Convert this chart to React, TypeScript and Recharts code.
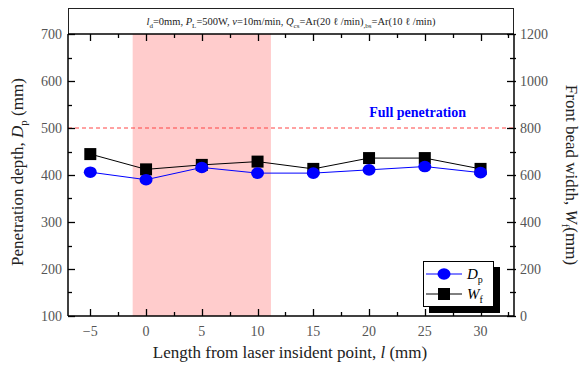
import { ComposedChart, Line, XAxis, YAxis, ReferenceArea, ReferenceLine } from 'recharts';

const lengths = [-5, 0, 5, 10, 15, 20, 25, 30];
const penetrationDepth = [406, 390, 416, 404, 404, 411, 418, 405];
const beadWidth = [689, 624, 643, 657, 626, 672, 672, 626];

const xTicks = [-5, -2.5, 0, 2.5, 5, 7.5, 10, 12.5, 15, 17.5, 20, 22.5, 25, 27.5, 30, 32.5];
const leftTicks = [100, 150, 200, 250, 300, 350, 400, 450, 500, 550, 600, 650, 700];
const rightTicks = [0, 100, 200, 300, 400, 500, 600, 700, 800, 900, 1000, 1100, 1200];

const FONT = 'Liberation Serif, DejaVu Serif, serif';
const AXIS = '#000';

const data = lengths.map((l, i) => ({ l, dp: penetrationDepth[i], wf: beadWidth[i] }));

const crisp = (v: number) => Math.round(v) + 0.5;

function BottomTick(props: any) {
  const { x, y, payload } = props;
  const major = payload.value % 5 === 0;
  const axisY = y - 8;
  const px = crisp(x);
  return (
    <g>
      <path d={`M${px},${axisY}V${axisY - (major ? 7 : 4)}`} stroke={AXIS} strokeWidth={1.3} fill="none" />
      {major && (
        <text x={x} y={axisY + 20} textAnchor="middle" fill="#555" fontSize={14} fontFamily={FONT}>
          {payload.value < 0 ? '\u2212' + Math.abs(payload.value) : payload.value}
        </text>
      )}
    </g>
  );
}

function TopTick(props: any) {
  const { x, y, payload } = props;
  const major = payload.value % 5 === 0;
  const px = crisp(x);
  return <path d={`M${px},${y}V${y + (major ? 7 : 4)}`} stroke={AXIS} strokeWidth={1.3} fill="none" />;
}

function LeftTick(props: any) {
  const { x, y, payload } = props;
  const major = payload.value % 100 === 0;
  const axisX = x + 6;
  const py = crisp(y);
  return (
    <g>
      <path d={`M${axisX},${py}H${axisX + (major ? 7 : 4)}`} stroke={AXIS} strokeWidth={1.3} fill="none" />
      {major && (
        <text x={axisX - 6} y={y + 5} textAnchor="end" fill="#555" fontSize={14} fontFamily={FONT}>
          {payload.value}
        </text>
      )}
    </g>
  );
}

function RightTick(props: any) {
  const { x, y, payload } = props;
  const major = payload.value % 200 === 0;
  const axisX = x - 6;
  const py = crisp(y);
  return (
    <g>
      <path d={`M${axisX + 2},${py}H${axisX - (major ? 7 : 4)}`} stroke={AXIS} strokeWidth={1.3} fill="none" />
      {major && (
        <text x={axisX + 6} y={y + 5} textAnchor="start" fill="#555" fontSize={14} fontFamily={FONT}>
          {payload.value}
        </text>
      )}
    </g>
  );
}

function Circle({ cx, cy }: any) {
  if (cx == null || cy == null) return null;
  return <ellipse cx={cx} cy={cy} rx={6.5} ry={5.8} fill="#0000ff" />;
}

function Square({ cx, cy }: any) {
  if (cx == null || cy == null) return null;
  return <rect x={cx - 6} y={cy - 6} width={12} height={12} fill="#000" />;
}

function LegendBox() {
  return (
    <div
      style={{
        position: 'absolute',
        left: 423,
        top: 261,
        width: 71,
        height: 46,
        border: '1px solid #000',
        background: '#fff',
        boxShadow: '6px 6px 0 #000',
        boxSizing: 'border-box',
      }}
    >
      <svg width={69} height={44} style={{ display: 'block' }}>
        <line x1={2} x2={38} y1={12} y2={12} stroke="#0000ff" />
        <ellipse cx={20} cy={12} rx={6.5} ry={5.8} fill="#0000ff" />
        <text x={43} y={17} fontSize={15} fontFamily={FONT}>
          <tspan fontStyle="italic">D</tspan>
          <tspan fontSize={10} dy={4}>p</tspan>
        </text>
        <line x1={2} x2={38} y1={32} y2={32} stroke="#000" />
        <rect x={14} y={26} width={12} height={12} fill="#000" />
        <text x={43} y={37} fontSize={15} fontFamily={FONT}>
          <tspan fontStyle="italic">W</tspan>
          <tspan fontSize={10} dy={4}>f</tspan>
        </text>
      </svg>
    </div>
  );
}

export default function App() {
  return (
    <div style={{ position: 'absolute', left: 0, top: 0, width: 581, height: 367, background: '#fff', fontFamily: FONT }}>
      <div
        style={{
          position: 'absolute',
          left: 68,
          top: 8,
          width: 446,
          height: 26,
          border: '1px solid #222',
          borderBottom: 'none',
          boxSizing: 'border-box',
          textAlign: 'center',
          fontSize: 10.5,
          lineHeight: '26px',
          color: '#222',
        }}
      >
        <i>l</i><sub style={{ fontSize: 7 }}>d</sub>=0mm, <i>P</i><sub style={{ fontSize: 7 }}>L</sub>=500W, <i>v</i>=10m/min,{' '}
        <i>Q</i><sub style={{ fontSize: 7 }}>cs</sub>=Ar(20 ℓ /min)<sub style={{ fontSize: 7 }}>,bs</sub>=Ar(10 ℓ /min)
      </div>
      <ComposedChart width={581} height={367} data={data} margin={{ top: 30, right: 0, bottom: 0, left: 0 }}>
        <ReferenceArea x1={-1.2} x2={11.2} yAxisId="left" fill="#ffcccc" fillOpacity={1} stroke="none" />
        <XAxis
          dataKey="l"
          type="number"
          domain={[-7, 33]}
          ticks={xTicks}
          interval={0}
          height={51}
          tickSize={0}
          tickMargin={8}
          tickLine={false}
          stroke={AXIS}
          strokeWidth={1.5}
          tick={<BottomTick />}
          label={{
            content: () => (
              <text x={290} y={358} textAnchor="middle" fontSize={17} fontFamily={FONT} fill="#222">
                Length from laser insident point, <tspan fontStyle="italic">l</tspan>  (mm)
              </text>
            ),
          }}
        />
        <XAxis
          xAxisId="top"
          dataKey="l"
          type="number"
          orientation="top"
          domain={[-7, 33]}
          ticks={xTicks}
          interval={0}
          height={4}
          tickSize={0}
          tickMargin={0}
          tickLine={false}
          stroke={AXIS}
          strokeWidth={1.5}
          tick={<TopTick />}
        />
        <YAxis
          yAxisId="left"
          domain={[100, 700]}
          ticks={leftTicks}
          interval={0}
          width={68}
          tickSize={0}
          tickMargin={6}
          tickLine={false}
          stroke={AXIS}
          strokeWidth={1.5}
          tick={<LeftTick />}
          label={{
            content: () => (
              <text x={23} y={172} transform="rotate(-90 23 172)" textAnchor="middle" fontSize={17} fontFamily={FONT} fill="#222">
                Penetration depth, <tspan fontStyle="italic">D</tspan>
                <tspan fontSize={11} dy={4}>p</tspan>
                <tspan dy={-4}> (mm)</tspan>
              </text>
            ),
          }}
        />
        <YAxis
          yAxisId="right"
          orientation="right"
          domain={[0, 1200]}
          ticks={rightTicks}
          interval={0}
          width={67}
          tickSize={0}
          tickMargin={6}
          tickLine={false}
          stroke={AXIS}
          strokeWidth={1.5}
          tick={<RightTick />}
          label={{
            content: () => (
              <text x={566} y={175} transform="rotate(90 566 175)" textAnchor="middle" fontSize={17} fontFamily={FONT} fill="#222">
                Front bead width, <tspan fontStyle="italic">W</tspan>
                <tspan fontSize={11} dy={4}>f</tspan>
                <tspan dy={-4}>(mm)</tspan>
              </text>
            ),
          }}
        />
        <ReferenceLine
          y={500}
          yAxisId="left"
          stroke="#ff4444"
          strokeDasharray="4 3"
          label={{
            content: ({ viewBox }: any) => (
              <text
                x={viewBox.x + viewBox.width - 48}
                y={viewBox.y - 11}
                textAnchor="end"
                fill="#0000ff"
                fontWeight="bold"
                fontSize={14}
                fontFamily={FONT}
              >
                Full penetration
              </text>
            ),
          }}
        />
        <Line yAxisId="right" dataKey="wf" stroke="#000" strokeWidth={1} dot={<Square />} isAnimationActive={false} />
        <Line yAxisId="left" dataKey="dp" stroke="#0000ff" strokeWidth={1} dot={<Circle />} isAnimationActive={false} />
      </ComposedChart>
      <LegendBox />
    </div>
  );
}
